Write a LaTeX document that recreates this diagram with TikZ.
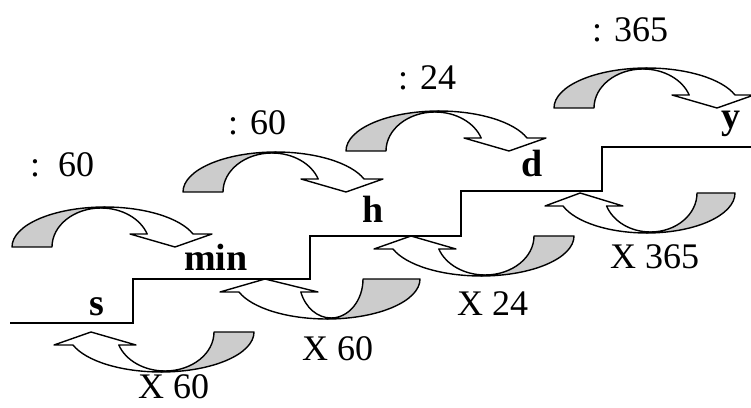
\documentclass[tikz,border=0pt]{standalone}
\usepackage{fontspec}
\setmainfont{Liberation Serif}
\definecolor{backgray}{RGB}{204,204,204}
\tikzset{
  ribbonline/.style={draw=black, line width=1.4pt, line join=round},
  stair/.style={draw=black, line width=1.6pt},
  unitlbl/.style={font=\bfseries\fontsize{38}{40}\selectfont, anchor=base, inner sep=0pt},
  factor/.style={font=\fontsize{36}{40}\selectfont, anchor=base west, inner sep=0pt},
  % curved ribbon arrow: #1 inner base x, #2 head left, #3 head right, #4 head tip
  pics/ribbon/.style n args={4}{code={
    \filldraw[ribbonline, fill=backgray]
      (0,0) arc[start angle=180, end angle=90, x radius=93, y radius=40]
      -- (89,39) arc[start angle=90, end angle=180, x radius={89-#1}, y radius=39]
      -- cycle;
    \filldraw[ribbonline, fill=white]
      (89,39) arc[start angle=90, end angle=19.47, x radius={89-#1}, y radius=39]
      -- (#2,13) -- (#4,0) -- (#3,13) -- (181,13)
      arc[start angle=18.97, end angle=90, x radius=93, y radius=40]
      -- cycle;
  }}
}
\begin{document}
\begin{tikzpicture}[x=1pt, y=1pt]
\useasboundingbox (0,0) rectangle (751,407);

% staircase of units
\draw[stair] (10,84) -- (133,84) -- (133,128) -- (310,128) -- (310,171)
  -- (461,171) -- (461,216) -- (602,216) -- (602,260) -- (751,260);

% dividing arrows (upwards along the stairs)
\pic (a1) at (12,160)  {ribbon={40}{118}{200}{163}};
\pic (a2) at (183,215) {ribbon={40}{118}{200}{163}};
\pic (a3) at (346,256) {ribbon={40}{118}{200}{163}};
\pic (a4) at (554,299) {ribbon={40}{118}{200}{163}};

% multiplying arrows (downwards along the stairs)
\pic[rotate=180] (b1) at (254,75)  {ribbon={40}{118}{200}{163}};
\pic[rotate=180] (b2) at (420,128) {ribbon={57}{102}{200}{155}};
\pic[rotate=180] (b3) at (574,171) {ribbon={40}{118}{200}{163}};
\pic[rotate=180, xscale=0.95] (b4) at (735,214) {ribbon={40}{118}{200}{163}};

% unit names
\node[unitlbl] (us)   at (97,92)   {s};
\node[unitlbl] (umin) at (216,137) {min};
\node[unitlbl] (uh)   at (373,184) {h};
\node[unitlbl] (ud)   at (532,230) {d};
\node[unitlbl] (uy)   at (731,278) {y};

% conversion factors
\node[factor] (f1) at (30,230)  {:\ \ 60};
\node[factor] (f2) at (228,272) {: 60};
\node[factor] (f3) at (398,317) {: 24};
\node[factor] (f4) at (592,365) {: 365};
\node[factor] (m1) at (138,9)   {X 60};
\node[factor] (m2) at (302,47)  {X 60};
\node[factor] (m3) at (457,92)  {X 24};
\node[factor] (m4) at (610,139) {X 365};
\end{tikzpicture}
\end{document}
